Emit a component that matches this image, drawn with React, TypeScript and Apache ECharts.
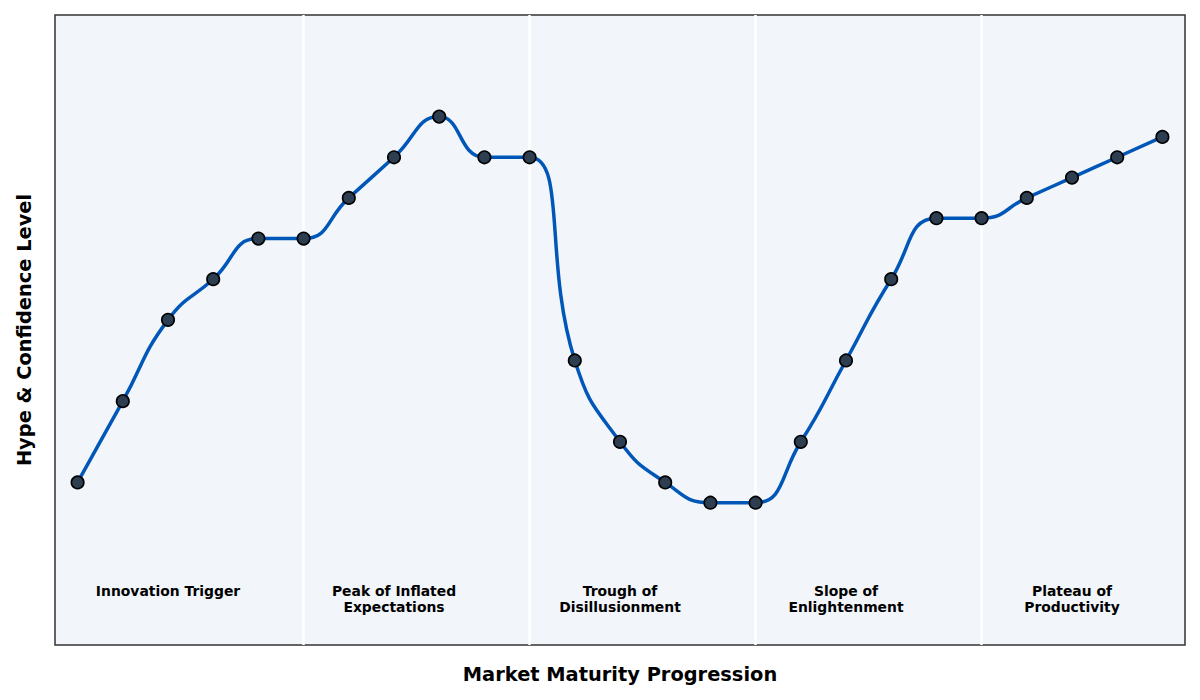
import React, { useEffect, useRef } from "react";
import * as echarts from "echarts";

// 25 evenly spaced steps along the maturity axis
const steps = Array.from({ length: 25 }, (_, i) => i);
const hype = [
  20, 30, 40, 45, 50, 50, 55, 60, 65, 60, 60, 35, 25, 20, 17.5, 17.5, 25, 35,
  45, 52.5, 52.5, 55, 57.5, 60, 62.5,
];

// phase boundaries and labels
const boundaries = [5, 10, 15, 20];
const phaseNames = [
  "Innovation Trigger",
  "Peak of Inflated\nExpectations",
  "Trough of\nDisillusionment",
  "Slope of\nEnlightenment",
  "Plateau of\nProductivity",
];
const phaseCenters = [2, 7, 12, 17, 22];
const phaseLabelY = 7.65;

const FONT = "DejaVu Sans";

const App = () => {
  const chartRef = useRef<HTMLDivElement>(null);

  useEffect(() => {
    const chart = echarts.init(chartRef.current, null, { renderer: "svg" });

    const option = {
      animation: false,
      textStyle: { fontFamily: FONT },
      grid: {
        left: 55,
        right: 15,
        top: 15,
        bottom: 55,
        show: true,
        backgroundColor: "#f2f6fa",
        borderColor: "#333333",
        borderWidth: 1.5,
      },
      xAxis: {
        type: "value",
        min: -0.5,
        max: 24.5,
        name: "Market Maturity Progression",
        nameLocation: "middle",
        nameGap: 20,
        nameTextStyle: {
          fontFamily: FONT,
          fontWeight: "bold",
          fontSize: 19.4,
          color: "#000",
        },
        axisLine: { show: false },
        axisTick: { show: false },
        axisLabel: { show: false },
        splitLine: { show: false },
      },
      yAxis: {
        type: "value",
        min: 0,
        max: 77.5,
        name: "Hype & Confidence Level",
        nameLocation: "middle",
        nameGap: 21,
        nameTextStyle: {
          fontFamily: FONT,
          fontWeight: "bold",
          fontSize: 19.4,
          color: "#000",
        },
        axisLine: { show: false },
        axisTick: { show: false },
        axisLabel: { show: false },
        splitLine: { show: false },
      },
      series: [
        {
          // phase separators + labels
          type: "scatter",
          z: 1,
          silent: true,
          symbolSize: 0,
          itemStyle: { opacity: 1 },
          data: phaseCenters.map((x, i) => ({
            value: [x, phaseLabelY],
            name: phaseNames[i],
          })),
          label: {
            show: true,
            position: "bottom",
            distance: 0,
            formatter: (p: any) => p.name,
            fontFamily: FONT,
            fontWeight: "bold",
            fontSize: 13.9,
            lineHeight: 16,
            color: "#000000",
            opacity: 1,
            align: "center",
          },
          markLine: {
            z: 1,
            silent: true,
            symbol: "none",
            label: { show: false },
            lineStyle: { color: "#ffffff", width: 2.5, type: "solid", opacity: 1 },
            data: boundaries.map((b) => ({ xAxis: b })),
          },
        },
        {
          type: "line",
          z: 3,
          data: steps.map((s, i) => [s, hype[i]]),
          smooth: 0.5,
          symbol: "circle",
          symbolSize: 12.5,
          showAllSymbol: true,
          lineStyle: { color: "#0057b8", width: 3.5 },
          itemStyle: {
            color: "#2c3e50",
            borderColor: "#000000",
            borderWidth: 1.6,
          },
        },
      ],
    };

    chart.setOption(option);
    return () => {
      chart.dispose();
    };
  }, []);

  return (
    <div
      ref={chartRef}
      style={{
        position: "fixed",
        left: 0,
        top: 0,
        width: "1200px",
        height: "700px",
        background: "#ffffff",
      }}
    ></div>
  );
};

export default App;
